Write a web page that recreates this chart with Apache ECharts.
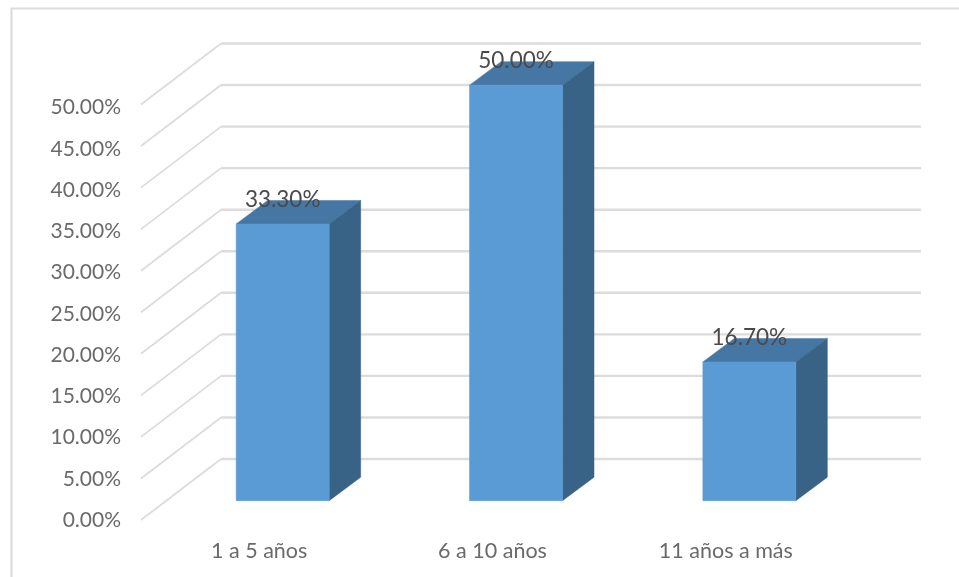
<!DOCTYPE html>
<html>
<head>
<meta charset="utf-8">
<style>html,body{margin:0;padding:0;background:#fff}#c{width:959px;height:577px}</style>
<script src="https://cdn.jsdelivr.net/npm/echarts@6/dist/echarts.min.js"></script>
</head>
<body>
<div id="c"></div>
<script>
var categories = ['1 a 5 años', '6 a 10 años', '11 años a más'];
var values = [33.3, 50.0, 16.7];
var valueLabels = ['33.30%', '50.00%', '16.70%'];
var ticks = [0, 5, 10, 15, 20, 25, 30, 35, 40, 45, 50];

var FONT = 'Lato, "Open Sans", sans-serif';
var WALL_DX = 80, WALL_DY = 61;      // wall depth
var BAR_DX = 25, BAR_DY = 19.3;      // bar front plane offset from axis plane
var SIDE_DX = 31.5, SIDE_DY = 23.5;  // bar depth
var BAR_W = 93;

function poly(points, fill) {
  return {type: 'polygon', shape: {points: points}, style: {fill: fill, stroke: fill, lineWidth: 0.5}};
}

var chart = echarts.init(document.getElementById('c'), null, {renderer: 'canvas'});
chart.setOption({
  animation: false,
  backgroundColor: '#fff',
  graphic: [{
    type: 'polyline', silent: true, z: 0,
    shape: {points: [[11.5, 577], [11.5, 8.5], [959, 8.5]]},
    style: {stroke: '#dcdcdc', lineWidth: 2.2, fill: null}
  }],
  grid: [
    {left: 141, right: 118, top: 104.5, bottom: 57},
    {left: 141, right: 118, top: 107.5, bottom: 57}
  ],
  xAxis: [{
    type: 'category', data: categories, gridIndex: 0,
    axisLine: {show: false}, axisTick: {show: false}, splitLine: {show: false},
    axisLabel: {color: '#6a6a6a', fontSize: 21.5, fontFamily: FONT, margin: 20, padding: [0, 0, 0, 3]}
  }, {
    type: 'category', data: categories, gridIndex: 1, show: false
  }],
  yAxis: [{
    type: 'value', min: 0, max: 50, interval: 5, gridIndex: 0,
    axisLine: {show: false}, axisTick: {show: false}, splitLine: {show: false},
    axisLabel: {show: false}
  }, {
    type: 'value', min: 0, max: 50, interval: 5, gridIndex: 1,
    axisLine: {show: false}, axisTick: {show: false}, splitLine: {show: false},
    axisLabel: {color: '#6a6a6a', fontSize: 21, fontFamily: FONT, margin: 20, padding: [2, 0, 0, 0],
      formatter: function (v) { return v.toFixed(2) + '%'; }}
  }],
  series: [{
    type: 'custom', coordinateSystem: 'cartesian2d', xAxisIndex: 0, yAxisIndex: 0, silent: true, z: 1,
    data: ticks.map(function (t) { return [0, t]; }),
    encode: {x: 0, y: 1},
    renderItem: function (params, api) {
      var y = api.coord([0, api.value(1)])[1];
      var cs = params.coordSys;
      var x0 = cs.x, x1 = cs.x + WALL_DX, x2 = cs.x + cs.width + WALL_DX;
      return {type: 'group', children: [
        {type: 'line', shape: {x1: x0, y1: y, x2: x1, y2: y - WALL_DY}, style: {stroke: '#dcdcdc', lineWidth: 1.8}},
        {type: 'line', shape: {x1: x1, y1: y - WALL_DY, x2: x2, y2: y - WALL_DY}, style: {stroke: '#dcdcdc', lineWidth: 2.4}}
      ]};
    }
  }, {
    type: 'custom', coordinateSystem: 'cartesian2d', xAxisIndex: 0, yAxisIndex: 0, silent: true, z: 2,
    data: values.map(function (v, i) { return [i, v]; }),
    encode: {x: 0, y: 1},
    renderItem: function (params, api) {
      var i = params.dataIndex;
      var top = api.coord([api.value(0), api.value(1)]);
      var base = api.coord([api.value(0), 0]);
      var cx = top[0] + BAR_DX, l = cx - BAR_W / 2, r = cx + BAR_W / 2;
      var t = top[1] - BAR_DY, b = base[1] - BAR_DY;
      return {type: 'group', children: [
        poly([[l, t], [r, t], [r + SIDE_DX, t - SIDE_DY], [l + SIDE_DX, t - SIDE_DY]], '#4676A3'),
        poly([[r, t], [r + SIDE_DX, t - SIDE_DY], [r + SIDE_DX, b - SIDE_DY], [r, b]], '#386286'),
        poly([[l, t], [r, t], [r, b], [l, b]], '#5B9BD5'),
        {type: 'text', style: {text: valueLabels[i], x: cx, y: t - 24, align: 'center', verticalAlign: 'middle',
          fill: '#4a4a4a', fontSize: 22.5, fontFamily: FONT}}
      ]};
    }
  }]
});
</script>
</body>
</html>
